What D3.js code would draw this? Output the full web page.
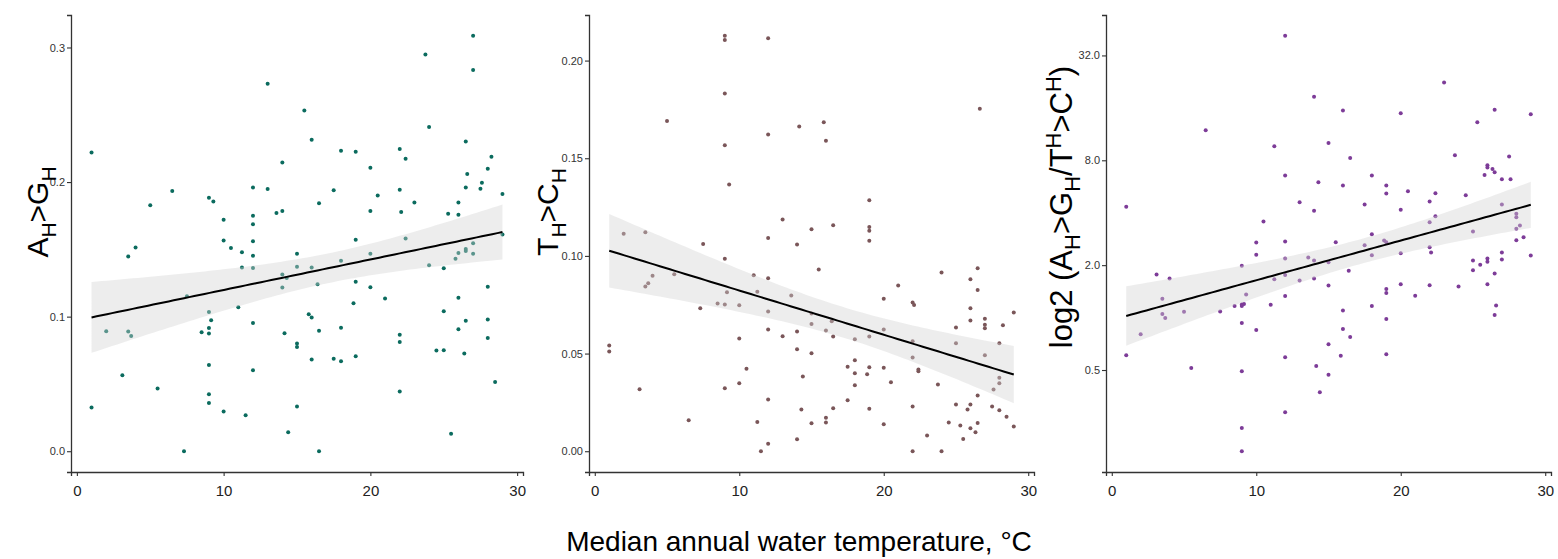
<!DOCTYPE html>
<html>
<head>
<meta charset="utf-8">
<script src="https://cdn.jsdelivr.net/npm/d3@7"></script>
<style>
  body { margin: 0; background: #fff; }
  svg { display: block; font-family: 'Liberation Sans', Arial, sans-serif; }
</style>
</head>
<body>
<div id="chart"></div>
<script>
// [median annual water temperature (°C), value]
const ahGhPoints = [
  [1.0, 0.222], [13.0, 0.273], [14.0, 0.2146], [12.0, 0.196], [13.0, 0.1948], [6.5, 0.1934],
  [5.0, 0.1827], [9.0, 0.1884], [9.3, 0.1856], [10.0, 0.172], [12.0, 0.175], [12.0, 0.1686],
  [13.6, 0.177], [14.0, 0.1785], [10.0, 0.1565], [10.5, 0.151], [12.0, 0.156], [4.0, 0.1513],
  [27.0, 0.3087], [23.75, 0.2948], [27.0, 0.2832], [15.5, 0.2532], [16.0, 0.2315], [24.0, 0.2409],
  [18.0, 0.2233], [19.0, 0.2225], [22.0, 0.2245], [22.4, 0.2173], [26.5, 0.2302], [28.25, 0.2188],
  [28.0, 0.2099], [20.0, 0.2107], [26.6, 0.206], [27.6, 0.1995], [26.5, 0.196], [27.5, 0.195],
  [29.0, 0.1911], [17.5, 0.194], [16.5, 0.1842], [20.5, 0.19], [22.0, 0.1943], [20.0, 0.1785],
  [22.1, 0.1778], [23.0, 0.1849], [26.0, 0.1849], [25.3, 0.1765], [26.0, 0.1758], [19.0, 0.1572],
  [22.4, 0.158], [27.0, 0.1545], [29.0, 0.1611], [26.5, 0.1503], [11.25, 0.1478], [12.0, 0.1453],
  [3.5, 0.1446], [15.0, 0.1468], [11.25, 0.1366], [12.0, 0.1362], [15.0, 0.1371], [14.0, 0.1314],
  [14.3, 0.1288], [14.0, 0.1216], [7.5, 0.1151], [11.0, 0.1069], [9.0, 0.1035], [12.0, 0.0953],
  [9.15, 0.0973], [9.0, 0.0916], [8.5, 0.0884], [9.0, 0.0874], [14.15, 0.0876], [2.0, 0.0891],
  [3.5, 0.0889], [3.7, 0.0857], [15.0, 0.08], [15.0, 0.0775], [9.0, 0.0641], [12.0, 0.0601],
  [3.1, 0.0564], [5.5, 0.0466], [9.0, 0.0423], [9.0, 0.0359], [1.0, 0.0324], [15.0, 0.0332],
  [10.0, 0.0295], [11.5, 0.0267], [14.4, 0.0141], [7.3, 0.0], [16.0, 0.1366], [18.0, 0.1416],
  [20.0, 0.1468], [26.0, 0.1473], [26.5, 0.1488], [25.8, 0.1431], [27.0, 0.1468], [24.0, 0.1381],
  [25.0, 0.1359], [16.4, 0.124], [19.0, 0.126], [20.0, 0.1218], [21.0, 0.1134], [28.0, 0.1223],
  [26.0, 0.1141], [18.85, 0.1099], [25.0, 0.104], [15.8, 0.1017], [16.0, 0.0993], [28.0, 0.0978],
  [26.5, 0.097], [18.0, 0.0918], [16.5, 0.0896], [26.0, 0.0906], [22.0, 0.0866], [22.0, 0.0812],
  [28.0, 0.0842], [16.0, 0.0681], [17.5, 0.0688], [18.0, 0.0668], [19.0, 0.0706], [24.5, 0.0748],
  [25.0, 0.075], [26.4, 0.0726], [28.5, 0.0515], [22.0, 0.0443], [25.5, 0.0129], [16.5, 0.0]
];

const thChPoints = [
  [9.0, 0.2127], [9.0, 0.2105], [12.0, 0.2114], [9.0, 0.1832], [5.0, 0.1691], [14.15, 0.1662],
  [12.0, 0.1621], [9.0, 0.1566], [9.3, 0.1366], [13.0, 0.1186], [2.0, 0.1114], [3.5, 0.1121],
  [7.5, 0.1061], [12.0, 0.1092], [14.0, 0.1058], [15.85, 0.1684], [16.0, 0.159], [26.65, 0.1754],
  [19.0, 0.1285], [15.0, 0.1136], [16.5, 0.1157], [19.0, 0.1148], [19.0, 0.1129], [19.0, 0.1078],
  [9.0, 0.0985], [3.5, 0.0843], [3.7, 0.086], [4.0, 0.0898], [5.5, 0.0906], [11.0, 0.0901],
  [12.0, 0.0886], [7.3, 0.0732], [8.5, 0.0756], [9.0, 0.0751], [9.15, 0.0814], [10.0, 0.0747],
  [11.25, 0.0817], [12.0, 0.0715], [13.6, 0.0797], [12.0, 0.0623], [14.0, 0.0613], [13.0, 0.0589],
  [10.0, 0.0577], [14.0, 0.0522], [1.0, 0.0541], [1.0, 0.051], [10.5, 0.0422], [14.4, 0.0382],
  [3.1, 0.0317], [9.0, 0.0322], [10.0, 0.0348], [12.0, 0.0265], [14.3, 0.0213], [6.5, 0.0159],
  [11.25, 0.015], [14.0, 0.0061], [12.0, 0.0038], [11.5, 0.0], [15.5, 0.093], [24.0, 0.0915],
  [26.5, 0.0937], [26.0, 0.088], [21.0, 0.0848], [26.5, 0.0826], [20.0, 0.0781], [22.0, 0.0761],
  [22.1, 0.0749], [26.0, 0.0732], [26.0, 0.0669], [27.0, 0.0678], [27.0, 0.0647], [27.0, 0.063],
  [28.25, 0.0645], [29.0, 0.071], [25.0, 0.0633], [15.0, 0.0705], [15.0, 0.0652], [16.4, 0.0666],
  [16.0, 0.0618], [16.5, 0.0587], [18.0, 0.0573], [19.0, 0.0587], [20.0, 0.0623], [22.0, 0.0563],
  [22.0, 0.048], [25.0, 0.0553], [28.0, 0.0553], [27.0, 0.0491], [15.0, 0.0502], [18.0, 0.0466],
  [17.5, 0.0433], [19.0, 0.043], [20.0, 0.0428], [18.0, 0.0399], [18.85, 0.0394], [22.4, 0.0418],
  [22.4, 0.0409], [18.0, 0.0338], [20.5, 0.0353], [23.75, 0.0341], [28.0, 0.0376], [28.0, 0.0348],
  [27.6, 0.0316], [26.5, 0.0285], [17.5, 0.0261], [16.5, 0.022], [19.0, 0.0217], [22.0, 0.0229],
  [25.0, 0.0239], [26.0, 0.0239], [25.8, 0.0213], [27.5, 0.0229], [28.0, 0.021], [28.5, 0.0176],
  [29.0, 0.0126], [15.0, 0.0143], [16.0, 0.0171], [16.0, 0.0147], [20.0, 0.0138], [24.5, 0.0147],
  [25.3, 0.0132], [26.0, 0.0118], [26.5, 0.0145], [26.35, 0.0097], [25.5, 0.0063], [23.0, 0.008],
  [22.0, 0.0], [24.0, 0.0]
];

// third panel: log2 of the ratio (the axis labels show 2^value)
const log2RatioPoints = [
  [1.0, 2.112], [12.0, 5.375], [14.0, 4.213], [6.5, 3.571], [11.25, 3.267], [15.0, 3.331],
  [12.0, 2.709], [14.3, 2.581], [13.0, 2.2], [14.0, 2.036], [10.5, 1.832], [10.0, 1.432],
  [12.0, 1.451], [23.0, 4.486], [16.0, 3.952], [20.0, 3.895], [26.5, 3.966], [29.0, 3.877],
  [25.3, 3.724], [16.5, 3.046], [23.75, 3.095], [27.5, 3.07], [26.0, 2.905], [26.0, 2.861],
  [26.35, 2.836], [26.5, 2.771], [25.8, 2.721], [18.0, 2.709], [27.0, 2.638], [27.6, 2.638],
  [16.0, 2.518], [19.0, 2.518], [19.0, 2.366], [20.5, 2.41], [22.4, 2.371], [24.5, 2.333],
  [22.0, 2.213], [17.5, 2.156], [20.0, 2.055], [27.0, 2.156], [28.0, 1.979], [28.0, 1.914],
  [28.0, 1.693], [28.25, 1.756], [22.4, 1.933], [22.0, 1.819], [25.0, 1.642], [18.0, 1.59],
  [15.5, 1.438], [17.5, 1.381], [18.85, 1.47], [19.0, 1.438], [22.0, 1.343], [28.0, 1.476],
  [28.5, 1.533], [10.0, 1.198], [12.0, 1.128], [13.6, 1.147], [14.0, 1.09], [15.0, 1.057],
  [9.0, 0.988], [3.1, 0.823], [4.0, 0.747], [12.0, 0.81], [11.25, 0.733], [13.0, 0.709],
  [14.0, 0.747], [15.0, 0.613], [12.0, 0.41], [9.3, 0.442], [3.5, 0.36], [9.0, 0.251],
  [9.15, 0.257], [9.0, 0.219], [8.5, 0.219], [7.5, 0.118], [11.0, 0.246], [5.0, 0.112],
  [3.5, 0.067], [3.7, -0.01], [9.0, -0.105], [10.0, -0.238], [2.0, -0.32], [15.0, -0.51],
  [1.0, -0.72], [12.0, -0.758], [5.5, -0.962], [9.0, -1.025], [14.15, -0.924], [15.0, -1.088],
  [14.4, -1.425], [12.0, -1.806], [9.0, -2.105], [9.0, -2.549], [18.0, 1.19], [20.0, 1.229],
  [22.1, 1.242], [16.4, 0.893], [20.0, 0.638], [22.0, 0.619], [24.0, 0.594], [19.0, 0.543],
  [19.0, 0.467], [21.0, 0.417], [25.0, 1.09], [25.5, 1.007], [26.0, 1.128], [26.0, 1.065],
  [27.0, 1.242], [27.0, 1.109], [29.0, 1.185], [25.0, 0.905], [26.5, 0.842], [26.0, 0.638],
  [26.6, 0.232], [26.5, 0.048], [18.0, 0.219], [16.0, 0.137], [19.0, -0.029], [16.0, -0.219],
  [16.5, -0.371], [15.85, -0.726], [19.0, -0.701]
];

const xTicks = [0, 10, 20, 30];
const ahGhTicks = [0, 0.1, 0.2, 0.3];
const thChTicks = [0, 0.05, 0.1, 0.15, 0.2];
const log2RatioTicks = [-1, 1, 3, 5];
const xTitle = 'Median annual water temperature, °C';

// ggplot style 5% expansion of the data range
function expand (extent) {
  const pad = (extent[1] - extent[0]) * 0.05;
  return [extent[0] - pad, extent[1] + pad];
}

// ordinary least squares with a 95% confidence band
function linearFit (points, steps) {
  const n = points.length;
  const mx = d3.mean(points, p => p[0]);
  const my = d3.mean(points, p => p[1]);
  const sxx = d3.sum(points, p => (p[0] - mx) ** 2);
  const sxy = d3.sum(points, p => (p[0] - mx) * (p[1] - my));
  const slope = sxy / sxx;
  const intercept = my - slope * mx;
  const s2 = d3.sum(points, p => (p[1] - intercept - slope * p[0]) ** 2) / (n - 2);
  const t = 1.979; // t quantile, 0.975, about 125 df
  const [x0, x1] = d3.extent(points, p => p[0]);
  return d3.range(steps + 1).map(i => {
    const x = x0 + (x1 - x0) * i / steps;
    const fit = intercept + slope * x;
    const se = Math.sqrt(s2 * (1 / n + (x - mx) ** 2 / sxx));
    return {x: x, fit: fit, lo: fit - t * se, hi: fit + t * se};
  });
}

class FitPanel {
  constructor (svg, options) {
    Object.assign(this, options);
    this.svg = svg;
    this.top = 15;
    this.bottom = 472;
  }

  render () {
    this.g = this.svg.append('g');
    this.initScales();
    this.drawPoints();
    this.drawFit();
    this.drawAxes();
    this.drawTitle();
  }

  initScales () {
    this.xScale = d3.scaleLinear()
      .domain(expand(d3.extent(this.points, p => p[0])))
      .range([this.left, this.right]);
    this.yScale = d3.scaleLinear()
      .domain(expand(d3.extent(this.points, p => p[1])))
      .range([this.bottom, this.top]);
  }

  drawPoints () {
    this.g.append('g')
      .selectAll('circle')
      .data(this.points)
      .enter()
      .append('circle')
      .attr('cx', d => this.xScale(d[0]))
      .attr('cy', d => this.yScale(d[1]))
      .attr('r', 2)
      .attr('fill', this.color);
  }

  drawFit () {
    const fit = linearFit(this.points, 80);

    this.g.append('path')
      .datum(fit)
      .attr('fill', '#d3d3d3')
      .attr('fill-opacity', 0.4)
      .attr('d', d3.area()
        .x(d => this.xScale(d.x))
        .y0(d => this.yScale(d.lo))
        .y1(d => this.yScale(d.hi)));

    this.g.append('path')
      .datum(fit)
      .attr('fill', 'none')
      .attr('stroke', '#000')
      .attr('stroke-width', 2)
      .attr('d', d3.line()
        .x(d => this.xScale(d.x))
        .y(d => this.yScale(d.fit)));
  }

  drawAxes () {
    const xAxis = this.g.append('g')
      .attr('transform', 'translate(0,' + this.bottom + ')')
      .call(d3.axisBottom(this.xScale).tickValues(xTicks).tickSizeOuter(0).tickSize(4).tickPadding(9));
    xAxis.selectAll('text').attr('font-size', 15).attr('fill', '#222');

    const yAxis = this.g.append('g')
      .attr('transform', 'translate(' + this.left + ',0)')
      .call(d3.axisLeft(this.yScale).tickValues(this.yTicks).tickFormat(this.tickFormat)
        .tickSizeOuter(0).tickSize(4).tickPadding(2));
    yAxis.selectAll('text').attr('font-size', 11).attr('fill', '#333');

    this.g.selectAll('.domain').attr('stroke', '#333').attr('stroke-width', 1.3);
    this.g.selectAll('.tick line').attr('stroke', '#333').attr('stroke-width', 1.1);
  }

  drawTitle () {
    const size = this.titleSize || 30;
    const text = this.g.append('text')
      .attr('transform', 'translate(' + this.titleX + ',' + this.titleY + ') rotate(-90)')
      .attr('text-anchor', 'middle')
      .attr('font-size', size)
      .attr('fill', '#000');

    let offset = 0;
    this.title.forEach(seg => {
      const target = seg.sub ? 8 : (seg.sup ? -11 : 0);
      text.append('tspan')
        .attr('dy', target - offset)
        .attr('font-size', seg.sub || seg.sup ? Math.round(size * 0.7) : size)
        .text(seg.t);
      offset = target;
    });
  }
}

const svg = d3.select('#chart')
  .append('svg')
  .attr('width', 1558)
  .attr('height', 559);

const panels = [
  {
    points: ahGhPoints, left: 71, right: 523, color: '#0b6b5e',
    yTicks: ahGhTicks, tickFormat: d3.format('.1f'),
    titleX: 48, titleY: 212,
    title: [{t: 'A'}, {t: 'H', sub: true}, {t: '>G'}, {t: 'H', sub: true}]
  },
  {
    points: thChPoints, left: 589, right: 1034, color: '#7a5659',
    yTicks: thChTicks, tickFormat: d3.format('.2f'),
    titleX: 558, titleY: 212,
    title: [{t: 'T'}, {t: 'H', sub: true}, {t: '>C'}, {t: 'H', sub: true}]
  },
  {
    points: log2RatioPoints, left: 1106, right: 1551, color: '#7d3c98',
    yTicks: log2RatioTicks, tickFormat: d => (2 ** d).toFixed(1),
    titleX: 1072, titleY: 207, titleSize: 31,
    title: [{t: 'log2 (A'}, {t: 'H', sub: true}, {t: '>G'}, {t: 'H', sub: true}, {t: '/T'},
      {t: 'H', sup: true}, {t: '>C'}, {t: 'H', sup: true}, {t: ')'}]
  }
];

panels.forEach(options => new FitPanel(svg, options).render());

svg.append('text')
  .attr('x', 799)
  .attr('y', 551)
  .attr('text-anchor', 'middle')
  .attr('font-size', 28)
  .attr('fill', '#000')
  .text(xTitle);
</script>
</body>
</html>
